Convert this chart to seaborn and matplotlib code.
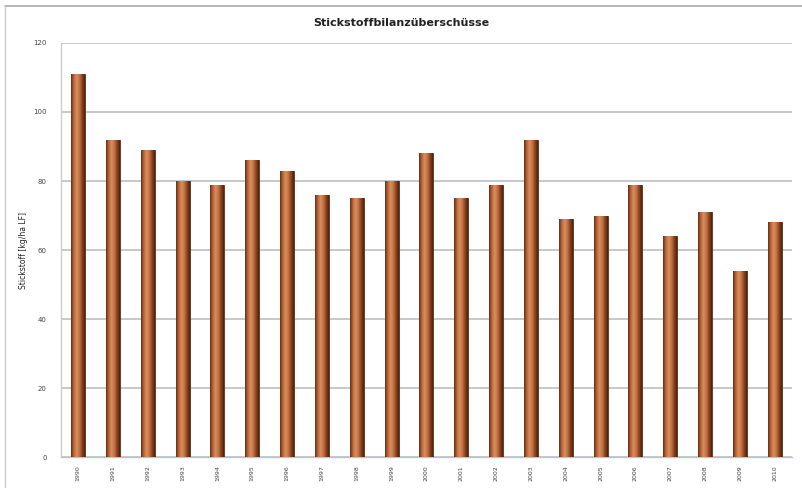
import numpy as np
import pandas as pd
import matplotlib
matplotlib.use("Agg")
import matplotlib.pyplot as plt
import seaborn as sns
from matplotlib.colors import LinearSegmentedColormap
from matplotlib.lines import Line2D

years = [str(y) for y in range(1990, 2011)]
values = [111, 92, 89, 80, 79, 86, 83, 76, 75, 80, 88, 75, 79, 92, 69, 70, 79, 64, 71, 54, 68]
title = "Stickstoffbilanzüberschüsse"
ylabel = "Stickstoff [kg/ha LF]"
yticks = [0, 20, 40, 60, 80, 100, 120]

sns.set_theme(style="white")
plt.rcParams['font.family'] = ['DejaVu Sans']

df = pd.DataFrame({"Jahr": years, "Wert": values})

fig = plt.figure(figsize=(8.03, 4.88), dpi=100)
ax = fig.add_axes([0.0755, 0.063, 0.911, 0.849])

sns.barplot(data=df, x="Jahr", y="Wert", color="#b0603a", width=0.4,
            edgecolor="#5a2a12", linewidth=0.6, ax=ax, zorder=3)

# cylinder-like shading clipped to each bar
cmap = LinearSegmentedColormap.from_list(
    "cyl", ["#6a2e12", "#b9663a", "#d8905f", "#c47244", "#8a4420", "#4e220c"])
grad = np.linspace(0, 1, 64).reshape(1, -1)
for p in ax.patches:
    x0, y0 = p.get_x(), p.get_y()
    w, h = p.get_width(), p.get_height()
    im = ax.imshow(grad, cmap=cmap, aspect="auto",
                   extent=[x0, x0 + w, y0, y0 + h], zorder=4)
    im.set_clip_path(p)

ax.set_xlim(-0.5, len(years) - 0.5)
ax.set_ylim(0, 120)
ax.set_yticks(yticks)
ax.set_yticklabels([str(t) for t in yticks], fontsize=5, color="#444444")
ax.set_xticks(range(len(years)))
ax.set_xticklabels(years, rotation=90, fontsize=4.5, color="#444444")
ax.tick_params(axis="both", length=0, pad=10)
ax.tick_params(axis="x", pad=6)
ax.yaxis.grid(True, color="#c8c8c8", linewidth=1.4, zorder=0)
ax.set_axisbelow(True)
ax.set_xlabel("")
ax.set_ylabel(ylabel, fontsize=5.5, color="#222222", labelpad=4)

for side in ["top", "right"]:
    ax.spines[side].set_visible(False)
ax.spines["left"].set_color("#cccccc")
ax.spines["left"].set_linewidth(1.0)
ax.spines["bottom"].set_color("#b8c4d8")
ax.spines["bottom"].set_linewidth(1.0)

fig.text(0.5, 0.953, title, ha="center", va="center", fontsize=8,
         fontweight="bold", color="#222222")

# outer frame lines
fig.add_artist(Line2D([5 / 803, 1], [1 - 6 / 488, 1 - 6 / 488],
                      transform=fig.transFigure, color="#aaaaaa", linewidth=1.2))
fig.add_artist(Line2D([5 / 803, 5 / 803], [0, 1 - 6 / 488],
                      transform=fig.transFigure, color="#cccccc", linewidth=1.0))

fig.savefig("out.png", dpi=100)
